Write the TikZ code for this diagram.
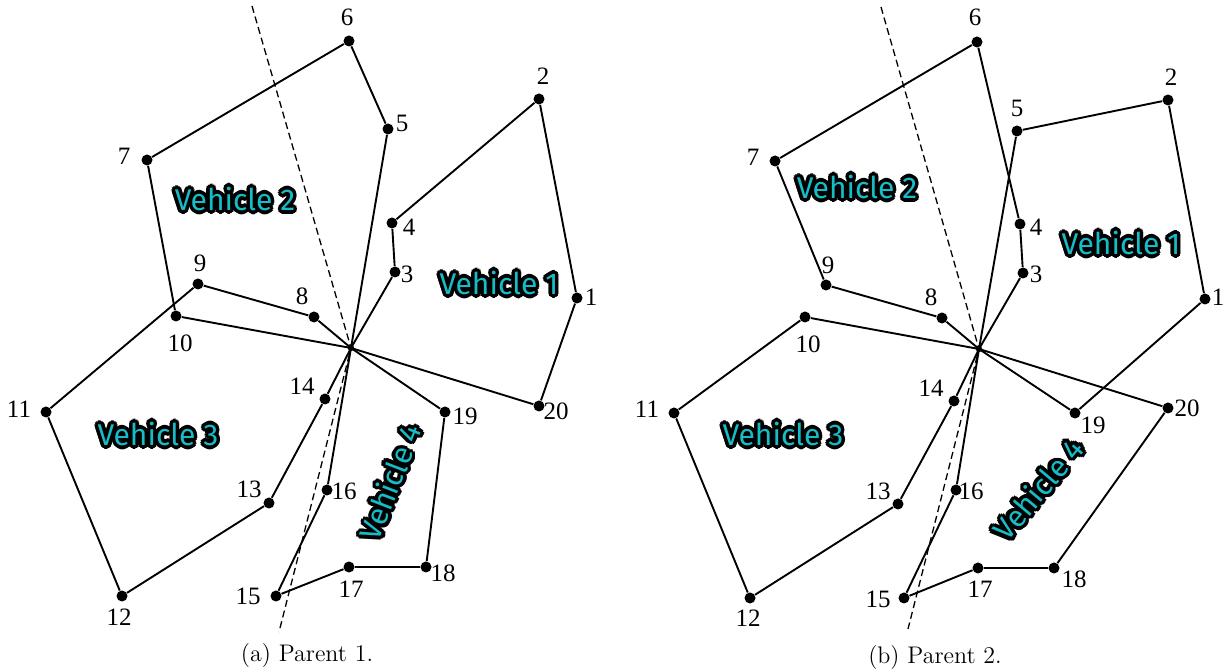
\documentclass[tikz,border=0pt]{standalone}
\usepackage{fontspec}
\setmainfont{Latin Modern Roman}
\newfontfamily\numfont{Liberation Serif}
\newfontfamily\vehfont{Fira Sans}
\usetikzlibrary{calc}
\definecolor{vcyan}{RGB}{22,188,198}
\tikzset{
  dot/.style={circle,fill=black,inner sep=0pt,minimum size=5.5pt},
  num/.style={font=\numfont\fontsize{12.5}{14}\selectfont,inner sep=0pt},
  route/.style={line width=0.95pt,line join=round},
  cutline/.style={line width=0.65pt,dash pattern=on 3.5pt off 2pt},
  vtext/.style={font=\vehfont\fontsize{15}{17}\selectfont,inner sep=0pt},
  capt/.style={font=\fontsize{12}{14}\selectfont,inner sep=0pt}
}
\newcommand\vehlabel[4]{%
  \foreach \ang in {0,30,...,330}{%
    \node[vtext,text=black,rotate=#3] at ($(#2)+(\ang:1.8pt)$) {#4};
    \node[vtext,text=black,rotate=#3] at ($(#2)+(\ang+15:1pt)$) {#4};
  }%
  \node[vtext,text=vcyan,rotate=#3] (#1) at (#2) {#4};%
}
\begin{document}
\begin{tikzpicture}[x=0.5pt,y=-0.5pt]
\useasboundingbox (0,0) rectangle (1228,672);
% ---------------- Panel (a) ----------------
\coordinate (aD) at (351,348);
\coordinate (aT) at (252,6);
\coordinate (aB) at (279,632);
\foreach \n/\x/\y/\lx/\ly in {
 1/577/298/591/297, 2/539/99/543/76, 3/395/272/407/274, 4/392/223/409/227,
 5/388/129/402/123, 6/349/41/347/17, 7/147/160/124/156, 8/314/317/302/296,
 9/198/284/200/263, 10/176/316/180/343, 11/46/412/19/409, 12/122/596/119/617,
 13/269/503/249/489, 14/325/399/302/386, 15/276/596/248/596, 16/327/490/344/491,
 17/349/567/351/589, 18/426/567/443/573, 19/445/412/465/416, 20/539/406/556/411}{
  \node[dot] (a\n) at (\x,\y) {};
  \node[num] (la\n) at (\lx,\ly) {\n};
}
\draw[cutline] (aT) -- (aD) -- (aB);
\draw[route] (aD) -- (a3) -- (a4) -- (a2) -- (a1) -- (a20) -- (aD);
\draw[route] (aD) -- (a5) -- (a6) -- (a7) -- (a10) -- (aD);
\draw[route] (aD) -- (a8) -- (a9) -- (a11) -- (a12) -- (a13) -- (a14) -- (aD);
\draw[route] (aD) -- (a16) -- (a15) -- (a17) -- (a18) -- (a19) -- (aD);
\fill (aD) circle (1.6pt);
\coordinate (pav1) at (499,283);
\coordinate (pav2) at (235,199);
\coordinate (pav3) at (158,434);
\coordinate (pav4) at (390,482);
\vehlabel{av1}{pav1}{0}{Vehicle 1}
\vehlabel{av2}{pav2}{0}{Vehicle 2}
\vehlabel{av3}{pav3}{0}{Vehicle 3}
\vehlabel{av4}{pav4}{69}{Vehicle 4}
\node[capt] (capa) at (307,656) {(a) Parent 1.};
% ---------------- Panel (b) ----------------
\coordinate (bD) at (979,349);
\coordinate (bT) at (881,7);
\coordinate (bB) at (908,629);
\foreach \n/\x/\y/\lx/\ly in {
 1/1205/299/1218/297, 2/1168/100/1171/77, 3/1023/273/1036/274, 4/1020/224/1036/227,
 5/1017/131/1017/108, 6/977/42/975/17, 7/775/161/753/157, 8/942/318/931/297,
 9/826/285/828/265, 10/805/317/808/344, 11/674/413/647/409, 12/750/598/748/618,
 13/898/504/878/491, 14/954/401/931/388, 15/904/598/878/599, 16/956/490/971/491,
 17/978/568/980/589, 18/1054/568/1074/579, 19/1075/413/1093/425, 20/1168/408/1187/408}{
  \node[dot] (b\n) at (\x,\y) {};
  \node[num] (lb\n) at (\lx,\ly) {\n};
}
\draw[cutline] (bT) -- (bD) -- (bB);
\draw[route] (bD) -- (b5) -- (b2) -- (b1) -- (b19) -- (bD);
\draw[route] (bD) -- (b3) -- (b4) -- (b6) -- (b7) -- (b9) -- (b8) -- (bD);
\draw[route] (bD) -- (b10) -- (b11) -- (b12) -- (b13) -- (b14) -- (bD);
\draw[route] (bD) -- (b16) -- (b15) -- (b17) -- (b18) -- (b20) -- (bD);
\fill (bD) circle (1.6pt);
\coordinate (pbv1) at (1121,243);
\coordinate (pbv2) at (857,187);
\coordinate (pbv3) at (783,434);
\coordinate (pbv4) at (1038,489);
\vehlabel{bv1}{pbv1}{0}{Vehicle 1}
\vehlabel{bv2}{pbv2}{0}{Vehicle 2}
\vehlabel{bv3}{pbv3}{0}{Vehicle 3}
\vehlabel{bv4}{pbv4}{50}{Vehicle 4}
\node[capt] (capb) at (935,658) {(b) Parent 2.};
\end{tikzpicture}
\end{document}
